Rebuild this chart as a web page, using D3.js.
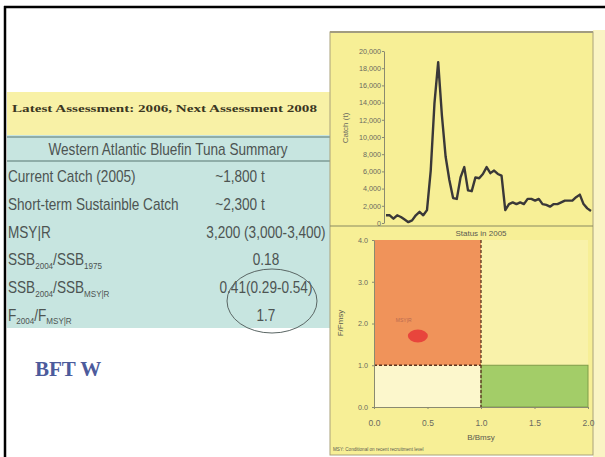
<!DOCTYPE html>
<html><head><meta charset="utf-8">
<script src="https://cdn.jsdelivr.net/npm/d3@7"></script>
<style>
html,body{margin:0;padding:0;background:#fff;}
svg{display:block;}
</style></head>
<body>
<svg id="c" width="605" height="457"></svg>
<script>
// ---------- DATA ----------
const headerText = "Latest Assessment: 2006, Next Assessment 2008";
const tableTitle = "Western Atlantic Bluefin Tuna Summary";
const tableLabels = [
  [["Current Catch (2005)", ""]],
  [["Short-term Sustainble Catch", ""]],
  [["MSY|R", ""]],
  [["SSB", ""], ["2004", "sub"], ["/SSB", ""], ["1975", "sub"]],
  [["SSB", ""], ["2004", "sub"], ["/SSB", ""], ["MSY|R", "sub"]],
  [["F", ""], ["2004", "sub"], ["/F", ""], ["MSY|R", "sub"]]
];
const tableValues = ["~1,800 t", "~2,300 t", "3,200 (3,000-3,400)", "0.18", "0.41(0.29-0.54)", "1.7"];
const stockLabel = "BFT W";

const years = [1950,1951,1952,1953,1954,1955,1956,1957,1958,1959,
  1960,1961,1962,1963,1964,1965,1966,1967,1968,1969,
  1970,1971,1972,1973,1974,1975,1976,1977,1978,1979,
  1980,1981,1982,1983,1984,1985,1986,1987,1988,1989,
  1990,1991,1992,1993,1994,1995,1996,1997,1998,1999,
  2000,2001,2002,2003,2004,2005];
const catchValues = [900,900,500,900,700,400,100,300,900,1300,
  900,1500,6100,13900,18700,12500,7700,5000,2900,2800,
  5300,6500,3800,3700,5300,5200,5700,6500,5800,6100,
  5700,5500,1500,2200,2400,2200,2400,2200,2800,2800,
  2600,2800,2200,2100,1900,2200,2200,2400,2600,2600,
  2600,3000,3300,2200,1700,1400];
const catchTicks = [0,2000,4000,6000,8000,10000,12000,14000,16000,18000,20000];

const statusTitle = "Status in 2005";
const bTicks = [0, 0.5, 1.0, 1.5, 2.0];
const fTicks = [0, 1, 2, 3, 4];
const statusB = [0.41];
const statusF = [1.7];
const statusPointLabel = "MSY|R";
const footnote = "MSY: Conditional on recent recruitment level";

// ---------- DRAW ----------
const svg = d3.select("#c");

// black frame
svg.append("rect").attr("x",0).attr("y",0).attr("width",605).attr("height",457).attr("fill","#fff");
svg.append("line").attr("x1",4).attr("x2",605).attr("y1",7).attr("y2",7).attr("stroke","#000").attr("stroke-width",2.5);
svg.append("line").attr("x1",5).attr("x2",5).attr("y1",6).attr("y2",457).attr("stroke","#000").attr("stroke-width",2.5);

// yellow header band
svg.append("rect").attr("x",7).attr("y",92).attr("width",323).attr("height",43).attr("fill","#f8f1a6");
svg.append("text").attr("x",12).attr("y",112)
  .attr("font-family","'Liberation Serif','Times New Roman',serif").attr("font-weight","bold")
  .attr("font-size",11.3).attr("fill","#3b3722").attr("textLength",305).attr("lengthAdjust","spacingAndGlyphs")
  .text(headerText);

// table
svg.append("rect").attr("x",7).attr("y",135).attr("width",323).attr("height",193).attr("fill","#c7e5e0");
svg.append("line").attr("x1",7).attr("x2",330).attr("y1",137).attr("y2",137).attr("stroke","#7d9a96").attr("stroke-width",1.5);
svg.append("line").attr("x1",7).attr("x2",330).attr("y1",161).attr("y2",161).attr("stroke","#7d9a96").attr("stroke-width",1.5);
const narrow = "'Liberation Sans',Arial,sans-serif";
const sx = 0.85; // condensed look
const tg = svg.append("g").attr("transform",`scale(${sx},1)`);
tg.append("text").attr("x",168/sx).attr("y",155).attr("text-anchor","middle")
  .attr("font-family",narrow).attr("font-size",16).attr("fill","#4d5452").text(tableTitle);

const rowY = d3.scaleLinear().domain([0, tableLabels.length-1]).range([182, 321]);
const rows = tg.append("g").selectAll("g").data(tableLabels).join("g");
rows.append("text").attr("x",8/sx).attr("y",(d,i)=>rowY(i))
  .attr("font-family",narrow).attr("font-size",16).attr("fill","#4d5452")
  .each(function(segs){
    const t = d3.select(this);
    let prevSub=false;
    segs.forEach(s=>{
      const isSub = s[1]==="sub";
      const ts = t.append("tspan").text(s[0]);
      if(isSub) ts.attr("font-size",9.5);
      ts.attr("dy", isSub && !prevSub ? 3.5 : (!isSub && prevSub ? -3.5 : 0));
      prevSub = isSub;
    });
  });
tg.append("g").selectAll("text").data(tableValues).join("text")
  .attr("x",(d,i)=> (i<2 ? 240 : 266)/sx).attr("y",(d,i)=>rowY(i)).attr("text-anchor","middle")
  .attr("font-family",narrow).attr("font-size",16).attr("fill","#4d5452").text(d=>d);
svg.append("ellipse").attr("cx",272).attr("cy",301).attr("rx",45).attr("ry",32)
  .attr("fill","none").attr("stroke","#5a6664").attr("stroke-width",1);

// BFT W
svg.append("text").attr("x",35).attr("y",376)
  .attr("font-family","'Liberation Serif','Times New Roman',serif").attr("font-weight","bold")
  .attr("font-size",21).attr("fill","#4c5b9c").text(stockLabel);

// right panel
svg.append("rect").attr("x",593).attr("y",30).attr("width",12).attr("height",427).attr("fill","#faf4c4");
svg.append("rect").attr("x",330).attr("y",32).attr("width",263).attr("height",423)
  .attr("fill","#f7ef96").attr("stroke","#aaa27a").attr("stroke-width",1);
svg.append("line").attr("x1",330).attr("x2",593).attr("y1",32).attr("y2",32).attr("stroke","#a29c80").attr("stroke-width",2);
svg.append("line").attr("x1",330).attr("x2",593).attr("y1",226).attr("y2",226).attr("stroke","#8a8a60").attr("stroke-width",1.2);

const tickFont = "'Liberation Sans',Arial,sans-serif";

// catch chart
const xC = d3.scaleLinear().domain([years[0], years[years.length-1]]).range([386, 591]);
const yC = d3.scaleLinear().domain([0, 20000]).range([223, 51]);
const gyC = svg.append("g").attr("transform","translate(384,0)")
  .call(d3.axisLeft(yC).tickValues(catchTicks).tickFormat(d3.format(",")).tickSize(2).tickSizeOuter(0));
gyC.select(".domain").attr("stroke","#8a8a70");
gyC.selectAll(".tick line").attr("stroke","#8a8a70");
gyC.selectAll("text").attr("font-family",tickFont).attr("font-size",7.2).attr("fill","#6a6a60").attr("x",-3);
svg.append("text").attr("transform","translate(348,128) rotate(-90)").attr("text-anchor","middle")
  .attr("font-family",tickFont).attr("font-size",8).attr("fill","#6a6a60").text("Catch (t)");
svg.append("path").datum(years.map((y,i)=>[y,catchValues[i]]))
  .attr("d", d3.line().x(d=>xC(d[0])).y(d=>yC(d[1])))
  .attr("fill","none").attr("stroke","#3a3838").attr("stroke-width",2.4).attr("stroke-linejoin","round");

// status plot
svg.append("text").attr("x",481).attr("y",236).attr("text-anchor","middle")
  .attr("font-family",tickFont).attr("font-size",8).attr("fill","#5a5a50").text(statusTitle);
const xS = d3.scaleLinear().domain([0, 2]).range([374, 588]);
const yS = d3.scaleLinear().domain([0, 4]).range([407, 240]);
const plot = svg.append("g");
plot.append("rect").attr("x",xS(0)).attr("y",yS(4)).attr("width",xS(2)-xS(0)).attr("height",yS(0)-yS(4)).attr("fill","#f9f2aa");
plot.append("rect").attr("x",xS(0)).attr("y",yS(1)).attr("width",xS(1)-xS(0)).attr("height",yS(0)-yS(1)).attr("fill","#fcf7cc");
plot.append("rect").attr("x",xS(0)).attr("y",yS(4)).attr("width",xS(1)-xS(0)).attr("height",yS(1)-yS(4)).attr("fill","#f0935a");
plot.append("rect").attr("x",xS(1)).attr("y",yS(1)).attr("width",xS(2)-xS(1)).attr("height",yS(0)-yS(1))
  .attr("fill","#a3cd68").attr("stroke","#7f9c48").attr("stroke-width",1);
plot.append("line").attr("x1",xS(0)).attr("x2",xS(1)).attr("y1",yS(1)).attr("y2",yS(1))
  .attr("stroke","#5b3420").attr("stroke-width",1.3).attr("stroke-dasharray","3,2");
plot.append("line").attr("x1",xS(1)).attr("x2",xS(1)).attr("y1",yS(4)).attr("y2",yS(0))
  .attr("stroke","#5b3420").attr("stroke-width",1.3).attr("stroke-dasharray","3,2");

const gxS = svg.append("g").attr("transform",`translate(0,${yS(0)})`)
  .call(d3.axisBottom(xS).tickValues(bTicks).tickFormat(d3.format(".1f")).tickSize(2).tickSizeOuter(0));
const gyS = svg.append("g").attr("transform",`translate(${xS(0)},0)`)
  .call(d3.axisLeft(yS).tickValues(fTicks).tickFormat(d3.format(".1f")).tickSize(2).tickSizeOuter(0));
[gxS,gyS].forEach(g=>{
  g.select(".domain").attr("stroke","#8a8a70");
  g.selectAll(".tick line").attr("stroke","#8a8a70");
  g.selectAll("text").attr("font-family",tickFont).attr("fill","#6a6a60");
});
gxS.selectAll("text").attr("font-size",8.5).attr("y",13);
gyS.selectAll("text").attr("font-size",7.2).attr("x",-6);
svg.append("text").attr("x",481).attr("y",440).attr("text-anchor","middle")
  .attr("font-family",tickFont).attr("font-size",8).attr("fill","#5a5a50").text("B/Bmsy");
svg.append("text").attr("transform","translate(343,323) rotate(-90)").attr("text-anchor","middle")
  .attr("font-family",tickFont).attr("font-size",8).attr("fill","#5a5a50").text("F/Fmsy");

svg.append("g").selectAll("ellipse").data(statusB).join("ellipse")
  .attr("cx",d=>xS(d)).attr("cy",(d,i)=>yS(statusF[i])).attr("rx",10).attr("ry",6.5).attr("fill","#e8453c");
svg.append("text").attr("x",xS(statusB[0])-22).attr("y",yS(statusF[0])-14)
  .attr("font-family",tickFont).attr("font-size",5).attr("fill","#b86a50").text(statusPointLabel);
svg.append("text").attr("x",333).attr("y",451)
  .attr("font-family",tickFont).attr("font-size",4.6).attr("fill","#5a5a50").text(footnote);
</script>
</body></html>
